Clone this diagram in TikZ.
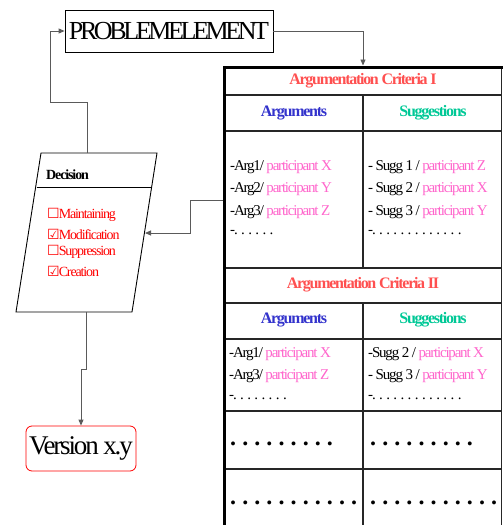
\documentclass[tikz,border=0pt]{standalone}
\usepackage{fontspec}
\setmainfont{Liberation Serif}[LetterSpace=-8]
\newfontfamily\headfont{Liberation Serif}[LetterSpace=-13]
\newfontfamily\dotfont{Liberation Serif}
\newfontfamily\symfont{DejaVu Sans}
\usetikzlibrary{arrows.meta}
\definecolor{critred}{RGB}{255,80,80}
\definecolor{argblue}{RGB}{51,51,204}
\definecolor{suggreen}{RGB}{0,200,150}
\definecolor{partpink}{RGB}{255,102,204}
\definecolor{linkgray}{RGB}{90,90,90}
% a row of evenly pitched bold dots
\newcommand{\dotrun}[1]{\foreach\k in {2,...,#1}{\makebox[12.1pt][l]{.}}.}
\tikzset{
  conn/.style={draw=linkgray, line width=0.9pt, -{Triangle[length=6pt,width=5pt]}},
  grid/.style={draw=black!85, line width=1.6pt},
  frame/.style={draw=black, line width=3pt},
  crit/.style={font=\fontsize{16}{18}\selectfont\bfseries, text=critred},
  colhead/.style={font=\fontsize{16}{18}\selectfont\bfseries},
  entry/.style={anchor=west, inner sep=0pt, font=\fontsize{15}{17}\selectfont},
  bigdots/.style={anchor=west, inner sep=0pt,
    font=\dotfont\fontsize{24}{24}\selectfont\bfseries},
  choice/.style={anchor=west, inner sep=0pt, text=red, font=\fontsize{14}{16}\selectfont},
}
\newcommand{\ptcp}[1]{\textcolor{partpink}{#1}}
\newcommand{\boxoff}{{\symfont\fontsize{14}{14}\selectfont ☐}\kern-1pt}
\newcommand{\boxon}{{\symfont\fontsize{14}{14}\selectfont ☑}\kern-1pt}
\begin{document}
\begin{tikzpicture}[x=1pt, y=-1pt]
\useasboundingbox (0,0) rectangle (503,525);

% problem element box
\node[draw, line width=0.8pt, minimum width=208pt, minimum height=42pt, inner sep=0pt,
      font=\headfont\fontsize{26}{28}\selectfont] (prob) at (169,31) {PROBLEMELEMENT};

% argumentation table: frame and grid
\draw[grid] (224,95) -- (501,95);
\draw[grid] (224,131) -- (501,131);
\draw[grid] (224,268) -- (501,268);
\draw[grid] (224,303) -- (501,303);
\draw[grid] (224,339) -- (501,339);
\draw[grid] (224,411) -- (501,411);
\draw[grid] (224,469) -- (501,469);
\draw[grid] (363,95) -- (363,268);
\draw[grid] (363,303) -- (363,525);
\draw[grid] (501.5,67) -- (501.5,525);
\draw[frame] (224,525) -- (224,67) -- (503,67);
\coordinate (tabtop) at (363,65.5);
\coordinate (tableft) at (222.5,200);

% criteria I
\node[crit] (c1) at (363,81) {Argumentation Criteria I};
\node[colhead, text=argblue] (a1) at (294,113) {Arguments};
\node[colhead, text=suggreen] (s1) at (433,113) {Suggestions};
\node[entry] (a1r1) at (230,167) {-Arg1/ \ptcp{participant X}};
\node[entry] (a1r2) at (230,189) {-Arg2/ \ptcp{participant Y}};
\node[entry] (a1r3) at (230,212) {-Arg3/ \ptcp{participant Z}};
\node[entry] (a1r4) at (230,233) {-. . . . . .};
\node[entry] (s1r1) at (368,167) {- Sugg 1 / \ptcp{participant Z}};
\node[entry] (s1r2) at (368,189) {- Sugg 2 / \ptcp{participant X}};
\node[entry] (s1r3) at (368,212) {- Sugg 3 / \ptcp{participant Y}};
\node[entry] (s1r4) at (368,233) {-. . . . . . . . . . . . .};

% criteria II
\node[crit] (c2) at (363,285) {Argumentation Criteria II};
\node[colhead, text=argblue] (a2) at (294,320) {Arguments};
\node[colhead, text=suggreen] (s2) at (433,320) {Suggestions};
\node[entry] (a2r1) at (229,354) {-Arg1/ \ptcp{participant X}};
\node[entry] (a2r2) at (229,376) {-Arg3/ \ptcp{participant Z}};
\node[entry] (a2r3) at (229,398) {-. . . . . . . .};
\node[entry] (s2r1) at (368,354) {-Sugg 2 / \ptcp{participant X}};
\node[entry] (s2r2) at (368,376) {- Sugg 3 / \ptcp{participant Y}};
\node[entry] (s2r3) at (368,398) {-. . . . . . . . . . . . .};

% open rows
\node[bigdots] (d1) at (230,444) {\dotrun{9}};
\node[bigdots] (d2) at (370,444) {\dotrun{9}};
\node[bigdots] (d3) at (230,503) {\dotrun{11}};
\node[bigdots] (d4) at (370,503) {\dotrun{11}};

% decision parallelogram
\draw[line width=0.9pt] (41,153) -- (157,153) -- (132,312) -- (16,312) -- cycle;
\draw[line width=0.9pt] (36.5,187) -- (151.6,187);
\coordinate (dtop) at (87,153);
\coordinate (dbot) at (86,312);
\coordinate (dright) at (145,233);
\node[anchor=west, inner sep=0pt, font=\fontsize{14}{16}\selectfont\bfseries] (dec) at (46,175) {Decision};
\node[choice] (o1) at (47,215) {\boxoff Maintaining};
\node[choice] (o2) at (47,234) {\boxon Modification};
\node[choice] (o3) at (47,252) {\boxoff Suppression};
\node[choice] (o4) at (47,271) {\boxon Creation};

% version box
\node[draw=red, line width=0.8pt, rounded corners=6pt, minimum width=110pt, minimum height=45pt,
      inner sep=0pt, font=\fontsize{27}{29}\selectfont] (ver) at (81,448.5) {Version x.y};

% connectors
\draw[conn] (dtop) -- (87,102) -- (50,102) -- (50,31) -- (prob.west);
\draw[conn] (prob.east) -| (tabtop);
\draw[conn] (tableft) -- (190,200) -- (190,233) -- (dright);
\draw[conn] (dbot) -- (86,369) -- (81,369) -- (ver.north);
\end{tikzpicture}
\end{document}
